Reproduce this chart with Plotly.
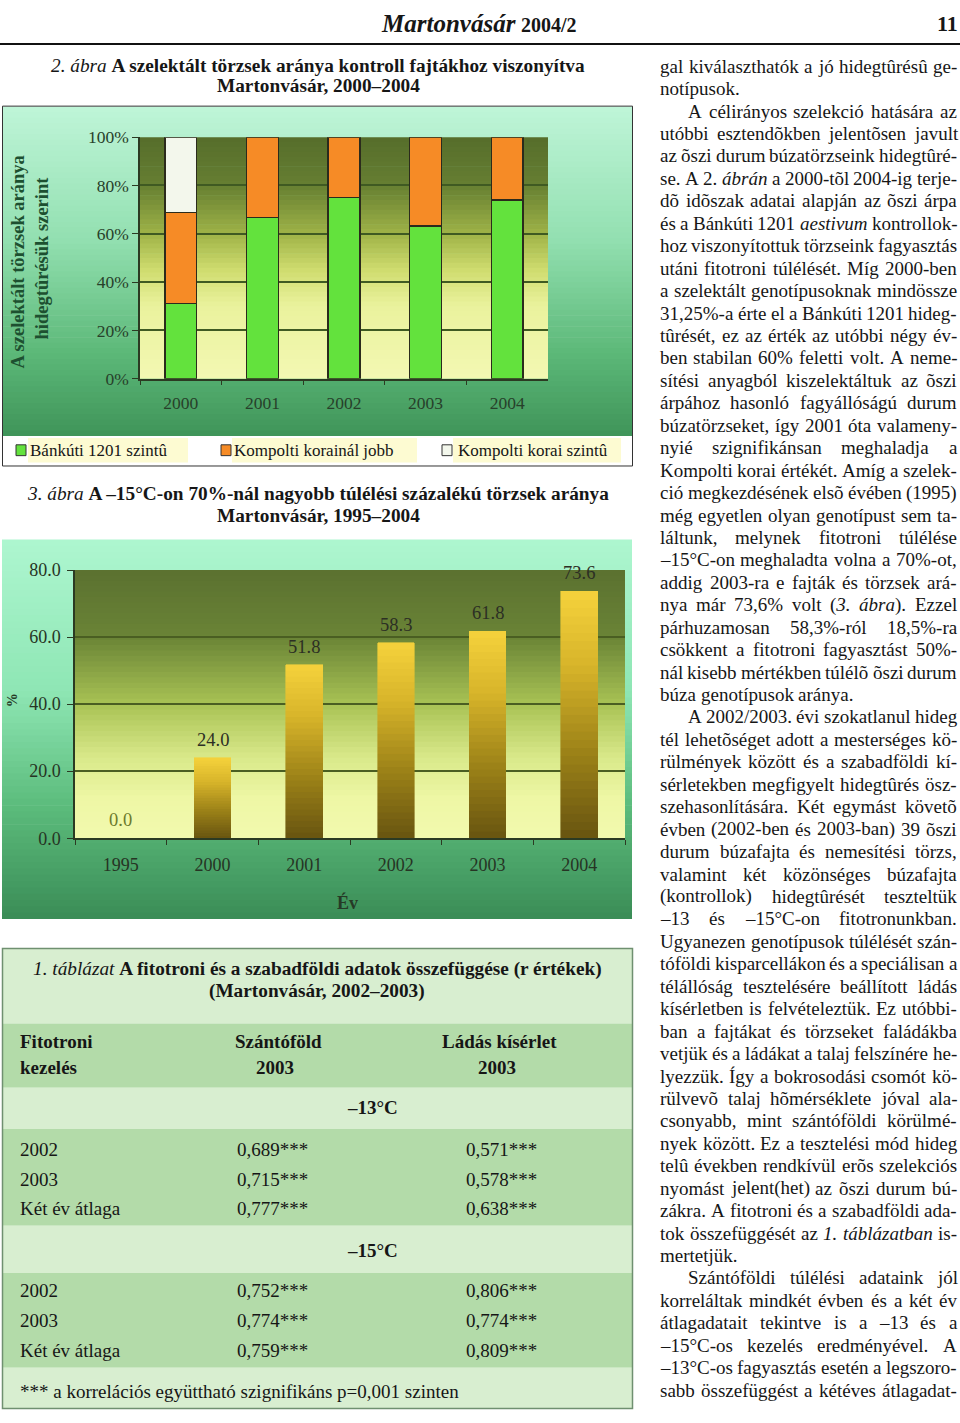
import unicodedata
import plotly.graph_objects as go

W, H = 960, 1423
SERIF = "Liberation Serif, Times New Roman, serif"

# ---------------- data ----------------
years_fig2 = ["2000", "2001", "2002", "2003", "2004"]
bankuti_szintu = [31.25, 66.7, 75.0, 63.2, 74.0]
kompolti_korainal_jobb = [37.5, 33.3, 25.0, 36.8, 26.0]
kompolti_korai_szintu = [31.25, None, None, None, None]
fig2_series = ["Bánkúti 1201 szintû", "Kompolti korainál jobb", "Kompolti korai szintû"]
fig2_ticks = [0, 20, 40, 60, 80, 100]

years_fig3 = ["1995", "2000", "2001", "2002", "2003", "2004"]
share_above70 = [0.0, 24.0, 51.8, 58.3, 61.8, 73.6]
fig3_ticks = [0, 20, 40, 60, 80]

tbl_col1 = ["Fitotroni", "kezelés"]
tbl_col2 = ["Szántóföld", "2003"]
tbl_col3 = ["Ládás kísérlet", "2003"]
tbl_temps = ["–13°C", "–15°C"]
tbl_rows = ["2002", "2003", "Két év átlaga"]
r_szanto = [["0,689***", "0,715***", "0,777***"], ["0,752***", "0,774***", "0,759***"]]
r_ladas = [["0,571***", "0,578***", "0,638***"], ["0,806***", "0,774***", "0,809***"]]
tbl_note = "*** a korrelációs együttható szignifikáns p=0,001 szinten"

body_lines = [
    "gal kiválaszthatók a jó hidegtûrésû ge-",
    "notípusok.",
    "A célirányos szelekció hatására az",
    "utóbbi esztendõkben jelentõsen javult",
    "az õszi durum búzatörzseink hidegtûré-",
    "se. A 2. <i>ábrán</i> a 2000-tõl 2004-ig terje-",
    "dõ idõszak adatai alapján az õszi árpa",
    "és a Bánkúti 1201 <i>aestivum</i> kontrollok-",
    "hoz viszonyítottuk törzseink fagyasztás",
    "utáni fitotroni túlélését. Míg 2000-ben",
    "a szelektált genotípusoknak mindössze",
    "31,25%-a érte el a Bánkúti 1201 hideg-",
    "tûrését, ez az érték az utóbbi négy év-",
    "ben stabilan 60% feletti volt. A neme-",
    "sítési anyagból kiszelektáltuk az õszi",
    "árpához hasonló fagyállóságú durum",
    "búzatörzseket, így 2001 óta valameny-",
    "nyié szignifikánsan meghaladja a",
    "Kompolti korai értékét. Amíg a szelek-",
    "ció megkezdésének elsõ évében (1995)",
    "még egyetlen olyan genotípust sem ta-",
    "láltunk, melynek fitotroni túlélése",
    "–15°C-on meghaladta volna a 70%-ot,",
    "addig 2003-ra e fajták és törzsek ará-",
    "nya már 73,6% volt (<i>3.</i> <i>ábra</i>). Ezzel",
    "párhuzamosan 58,3%-ról 18,5%-ra",
    "csökkent a fitotroni fagyasztást 50%-",
    "nál kisebb mértékben túlélõ õszi durum",
    "búza genotípusok aránya.",
    "A 2002/2003. évi szokatlanul hideg",
    "tél lehetõséget adott a mesterséges kö-",
    "rülmények között és a szabadföldi kí-",
    "sérletekben megfigyelt hidegtûrés ösz-",
    "szehasonlítására. Két egymást követõ",
    "évben (2002-ben és 2003-ban) 39 õszi",
    "durum búzafajta és nemesítési törzs,",
    "valamint két közönséges búzafajta",
    "(kontrollok) hidegtûrését teszteltük",
    "–13 és –15°C-on fitotronunkban.",
    "Ugyanezen genotípusok túlélését szán-",
    "tóföldi kisparcellákon és a speciálisan a",
    "télállóság tesztelésére beállított ládás",
    "kísérletben is felvételeztük. Ez utóbbi-",
    "ban a fajtákat és törzseket faládákba",
    "vetjük és a ládákat a talaj felszínére he-",
    "lyezzük. Így a bokrosodási csomót kö-",
    "rülvevõ talaj hõmérséklete jóval ala-",
    "csonyabb, mint szántóföldi körülmé-",
    "nyek között. Ez a tesztelési mód hideg",
    "telû években rendkívül erõs szelekciós",
    "nyomást jelent(het) az õszi durum bú-",
    "zákra. A fitotroni és a szabadföldi ada-",
    "tok összefüggését az <i>1.</i> <i>táblázatban</i> is-",
    "mertetjük.",
    "Szántóföldi túlélési adataink jól",
    "korreláltak mindkét évben és a két év",
    "átlagadatait tekintve is a –13 és a",
    "–15°C-os kezelés eredményével. A",
    "–13°C-os fagyasztás esetén a legszoro-",
    "sabb összefüggést a kétéves átlagadat-",
]
indent_lines = {2, 29, 54}
last_lines = {1, 28, 53}

# ---------------- helpers ----------------
shapes, annots = [], []


def hex2rgb(h):
    h = h.lstrip("#")
    return tuple(int(h[i:i + 2], 16) for i in (0, 2, 4))


def interp(stops, t):
    for (t0, c0), (t1, c1) in zip(stops, stops[1:]):
        if t <= t1:
            f = (t - t0) / (t1 - t0) if t1 > t0 else 0
            a, b = hex2rgb(c0), hex2rgb(c1)
            return "rgb(%d,%d,%d)" % tuple(round(a[i] + (b[i] - a[i]) * f) for i in range(3))
    return stops[-1][1]


def rect(x0, y0, x1, y1, fill="rgba(0,0,0,0)", line=None, lw=0, layer="below"):
    shapes.append(dict(type="rect", xref="paper", yref="paper",
                       x0=x0 / W, x1=x1 / W, y0=1 - y1 / H, y1=1 - y0 / H,
                       fillcolor=fill, line=dict(width=lw, color=line or "rgba(0,0,0,0)"),
                       layer=layer))


def vgrad(x0, y0, x1, y1, stops, n=60):
    for k in range(n):
        ya = y0 + (y1 - y0) * k / n
        yb = min(y1, y0 + (y1 - y0) * (k + 1) / n + 0.7)
        rect(x0, ya, x1, yb, interp(stops, (k + 0.5) / n))


def txt(x, y, s, size=19, color="#161616", xanchor="left", angle=0, family=SERIF):
    annots.append(dict(x=x / W, y=1 - y / H, xref="paper", yref="paper", text=s,
                       showarrow=False, xanchor=xanchor, yanchor="middle",
                       textangle=angle, borderpad=0, borderwidth=0,
                       font=dict(family=family, size=size, color=color)))


# Times-Roman metrics (Liberation Serif is metric compatible)
TR = {' ': 250, '!': 333, '%': 833, '(': 333, ')': 333, '*': 500, ',': 250, '-': 333,
      '.': 250, '/': 278, ':': 278, ';': 278, '=': 564, '°': 400, '–': 500,
      'A': 722, 'B': 667, 'C': 667, 'D': 722, 'E': 611, 'F': 556, 'G': 722, 'H': 722,
      'I': 333, 'J': 389, 'K': 722, 'L': 611, 'M': 889, 'N': 722, 'O': 722, 'P': 556,
      'Q': 722, 'R': 667, 'S': 556, 'T': 611, 'U': 722, 'V': 722, 'W': 944, 'X': 722,
      'Y': 722, 'Z': 611, 'a': 444, 'b': 500, 'c': 444, 'd': 500, 'e': 444, 'f': 333,
      'g': 500, 'h': 500, 'i': 278, 'j': 278, 'k': 500, 'l': 278, 'm': 778, 'n': 500,
      'o': 500, 'p': 500, 'q': 500, 'r': 333, 's': 389, 't': 278, 'u': 500, 'v': 500,
      'w': 722, 'x': 500, 'y': 500, 'z': 444}
TI = {'a': 500, 'f': 278, 'k': 444, 'm': 722, 'r': 389, 'v': 444, 'w': 667, 'x': 444,
      'y': 444, 'z': 389}


def word_width(word, fs):
    ital, i, tot = False, 0, 0
    while i < len(word):
        if word.startswith("<i>", i):
            ital, i = True, i + 3
            continue
        if word.startswith("</i>", i):
            ital, i = False, i + 4
            continue
        ch = word[i]
        base = unicodedata.normalize("NFD", ch)[0]
        w = 500 if base.isdigit() else TR.get(base, 500)
        if ital:
            w = TI.get(base, w)
        tot += w
        i += 1
    return tot * fs / 1000.0


# ---------------- figure ----------------
fig = go.Figure()

# --- figure 2 (stacked percentage bars)
colors2 = ["#63e23d", "#f68b26", "#f3f7ec"]
for name, vals, col in zip(fig2_series, [bankuti_szintu, kompolti_korainal_jobb, kompolti_korai_szintu], colors2):
    fig.add_trace(go.Bar(x=years_fig2, y=vals, name=name, width=0.39,
                         marker=dict(color=col, line=dict(color="#2b2b1c", width=1.5)),
                         xaxis="x", yaxis="y", showlegend=False, hoverinfo="skip"))

# --- figure 3 (gradient filled bars, built as stacked slices of the value)
NSEG = 30
bar_stops = [(0, "#685410"), (0.35, "#9c8218"), (0.7, "#d7b42a"), (1, "#f5d23c")]
for k in range(NSEG):
    col = interp(bar_stops, (k + 0.5) / NSEG)
    fig.add_trace(go.Bar(x=years_fig3, y=[v / NSEG for v in share_above70], width=0.4,
                         marker=dict(color=col, line=dict(color=col, width=0.6)),
                         xaxis="x2", yaxis="y2", showlegend=False, hoverinfo="skip"))

for idx, v in enumerate(share_above70):
    annots.append(dict(x=idx, y=v, xref="x2", yref="y2", text=f"{v:.1f}", showarrow=False,
                       yanchor="bottom", yshift=7, borderpad=0,
                       font=dict(family=SERIF, size=18.5, color="#6c7a2c" if v == 0 else "#2c2f24")))

# ---------------- decorations ----------------
# header
shapes.append(dict(type="line", xref="paper", yref="paper", x0=0, x1=1,
                   y0=1 - 34.5 / H, y1=1 - 34.5 / H, line=dict(color="#111", width=2)))
txt(381, 14, "<b><i>Martonvásár</i></b>", size=25)
txt(521, 15, "<b>2004/2</b>", size=20)
txt(958, 14, "<b>11</b>", size=22, xanchor="right")

# chart titles
txt(318, 56, "<i>2. ábra</i> <b>A szelektált törzsek aránya kontroll fajtákhoz viszonyítva</b>", size=19.3, xanchor="center")
txt(318, 77, "<b>Martonvásár, 2000–2004</b>", size=19.3, xanchor="center")
txt(318, 490, "<i>3. ábra</i> <b>A –15°C-on 70%-nál nagyobb túlélési százalékú törzsek aránya</b>", size=19.3, xanchor="center")
txt(318, 513, "<b>Martonvásár, 1995–2004</b>", size=19.3, xanchor="center")

# chart 1 panel
vgrad(3, 98, 632, 432, [(0, "#bff5d8"), (0.4, "#93e0b1"), (0.75, "#5cb878"), (1, "#3f9459")])
vgrad(140, 129, 548, 374, [(0, "#566d2b"), (0.2, "#667f32"), (0.4, "#9fb347"), (0.55, "#cfdc6f"),
                           (0.7, "#eaf29d"), (1, "#f3f8b3")], n=50)
rect(3, 432, 632, 462, "#ffffff")
for x0, x1 in [(28, 188), (232, 417), (453, 621)]:
    rect(x0, 434, x1, 459, "#fdfbd2")
for (cx, col), label, tx in zip([(21, colors2[0]), (226, colors2[1]), (447, colors2[2])], fig2_series, [30, 234, 458]):
    rect(cx - 5, 441, cx + 5, 452, col, "#333", 1)
    txt(tx, 447, label, size=17)
rect(2.5, 97.5, 632.5, 462.5, line="#333", lw=1)
txt(18, 256, "<b>A szelektált törzsek aránya</b>", size=18.5, color="#1d5030", xanchor="center", angle=-90)
txt(42, 252, "<b>hidegtûrésük szerint</b>", size=18.5, color="#1d5030", xanchor="center", angle=-90)

# chart 2 panel
vgrad(2, 537, 632, 922, [(0, "#aef6d0"), (0.4, "#8ee6b4"), (0.7, "#5cbc7c"), (1, "#3a8c56")])
vgrad(75, 568, 625, 840, [(0, "#5b7130"), (0.25, "#6a8436"), (0.5, "#a9c254"), (0.7, "#d9e98a"),
                          (0.85, "#eef7a5"), (1, "#f2f9ae")], n=50)
txt(347, 905, "<b>Év</b>", size=18, color="#263a26", xanchor="center")
txt(12, 700, "<b>%</b>", size=14, color="#263a26", xanchor="center", angle=-90)

# table
LIGHT, MED = "#d8eed0", "#b3dba9"
for y0, y1, c in [(952, 1028, LIGHT), (1028, 1093, MED), (1093, 1135, LIGHT), (1135, 1233, MED),
                  (1233, 1281, LIGHT), (1281, 1377, MED), (1377, 1418, LIGHT)]:
    rect(3, y0, 632, y1, c)
rect(2.5, 952, 632.5, 1418.5, line="#6f9070", lw=1.5)
txt(317, 973, "<i>1. táblázat</i> <b>A fitotroni és a szabadföldi adatok összefüggése (r értékek)</b>", size=19.3, xanchor="center")
txt(317, 995, "<b>(Martonvásár, 2002–2003)</b>", size=19.3, xanchor="center")
for j, yy in enumerate([1046, 1073]):
    txt(20, yy, f"<b>{tbl_col1[j]}</b>", size=19)
    txt(278 - 3 * j, yy, f"<b>{tbl_col2[j]}</b>", size=19, xanchor="center")
    txt(499 - 2 * j, yy, f"<b>{tbl_col3[j]}</b>", size=19, xanchor="center")
for g, (ty, rys) in enumerate([(1113, [1156, 1186, 1216]), (1258, [1299, 1329, 1360])]):
    txt(372, ty, f"<b>{tbl_temps[g]}</b>", size=19, xanchor="center")
    for r, yy in enumerate(rys):
        txt(20, yy, tbl_rows[r], size=19)
        txt(237, yy, r_szanto[g][r], size=19)
        txt(466, yy, r_ladas[g][r], size=19)
txt(20, 1401, tbl_note, size=19)

# body text column (justified word by word)
COL_L, COL_R, FS = 660, 957, 19.0
for i, line in enumerate(body_lines):
    y = 57 + i * 22.76
    words = line.split(" ")
    x0 = COL_L + (28 if i in indent_lines else 0)
    fs = FS
    nat = sum(word_width(w, fs) for w in words)
    if len(words) > 1 and i not in last_lines:
        minimum = nat + (len(words) - 1) * 0.17 * fs
        if minimum > COL_R - x0:
            fs = fs * (COL_R - x0) / minimum
            nat = sum(word_width(w, fs) for w in words)
        gap = (COL_R - x0 - nat) / (len(words) - 1)
    else:
        gap = 0.25 * fs
    x = x0
    for w in words:
        txt(x, y, w, size=fs)
        x += word_width(w, fs) + gap

AX, TK = "#2b3a22", "#27402a"
fig.update_layout(
    width=W, height=H, margin=dict(l=0, r=0, t=0, b=0),
    paper_bgcolor="#ffffff", plot_bgcolor="rgba(0,0,0,0)",
    barmode="stack", showlegend=False,
    shapes=shapes, annotations=annots,
    xaxis=dict(domain=[140 / W, 548 / W], type="category", anchor="y", showline=True,
               range=[-0.5, len(years_fig2) - 0.5],
               linecolor=AX, linewidth=1.5, ticks="outside", tickson="boundaries", ticklen=5,
               tickcolor=AX, ticklabelstandoff=8, showgrid=False, fixedrange=True,
               tickfont=dict(family=SERIF, size=17.5, color=TK)),
    yaxis=dict(domain=[1 - 374 / H, 1 - 129 / H], range=[0, 100], tickmode="array",
               tickvals=fig2_ticks, ticktext=[f"{t}%" for t in fig2_ticks],
               anchor="x", showgrid=True, gridcolor="#3f5a22", gridwidth=1.5,
               showline=True, linecolor=AX, linewidth=1.5, ticks="outside", ticklen=6,
               tickcolor=AX, zeroline=False, fixedrange=True,
               tickfont=dict(family=SERIF, size=17.5, color=TK)),
    xaxis2=dict(domain=[75 / W, 625 / W], type="category", anchor="y2", showline=True,
                range=[-0.5, len(years_fig3) - 0.5],
                linecolor=AX, linewidth=1.5, ticks="outside", tickson="boundaries", ticklen=5,
                tickcolor=AX, ticklabelstandoff=9, showgrid=False, fixedrange=True,
                tickfont=dict(family=SERIF, size=18, color="#263424")),
    yaxis2=dict(domain=[1 - 840 / H, 1 - 568 / H], range=[0, 80], tickmode="array",
                tickvals=fig3_ticks, ticktext=[f"{t:.1f}" for t in fig3_ticks],
                anchor="x2", showgrid=True, gridcolor="#4a5e22", gridwidth=2,
                showline=True, linecolor=AX, linewidth=1.5, ticks="outside", ticklen=6,
                tickcolor=AX, zeroline=False, fixedrange=True, ticklabelstandoff=3,
                tickfont=dict(family=SERIF, size=18, color="#263424")),
)

fig.write_html("out.html", post_script="document.body.style.margin='0';document.body.style.padding='0';")
